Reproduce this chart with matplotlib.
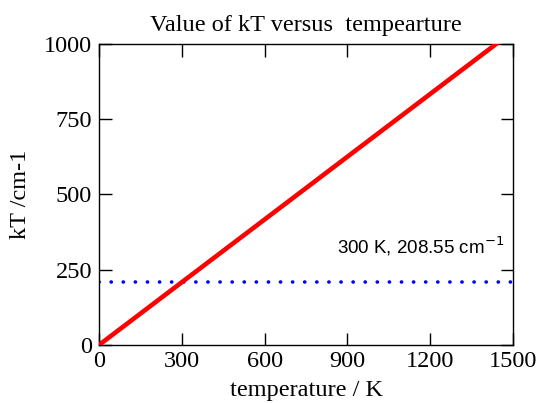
import matplotlib
matplotlib.use("Agg")
import matplotlib.pyplot as plt

temperature = [0, 1500]
kT = [0, 1042.5]
T_ref = 300
kT_ref = 208.55
x_ticks = [0, 300, 600, 900, 1200, 1500]
y_ticks = [0, 250, 500, 750, 1000]

plt.rcParams['font.family'] = ['Liberation Serif', 'DejaVu Serif']

fig = plt.figure(figsize=(5.41, 4.03), dpi=100)
ax = fig.add_axes([99/541, 1-345/403, (513-99)/541, (345-44)/403])

ax.plot(temperature, kT, color='#ff0000', lw=3.3, solid_capstyle='butt', zorder=3)
ax.axhline(kT_ref, color='#0000ff', lw=2.6, linestyle=(0, (0.05, 3.3)), dash_capstyle='round', zorder=2)

ax.set_xlim(0, 1500)
ax.set_ylim(0, 1000)
ax.set_xticks(x_ticks)
ax.set_yticks(y_ticks)
ax.tick_params(direction='in', top=True, right=True, length=9, width=1, labelsize=17.5, pad=5)
ax.tick_params(axis='x', pad=4)
for s in ax.spines.values():
    s.set_linewidth(1)

ax.text(1468, 288, f"{T_ref} K, {kT_ref} cm$^{{-1}}$", ha='right', va='bottom',
        family=['Liberation Sans', 'DejaVu Sans'], fontsize=13.5,
        math_fontfamily='dejavusans')

ax.set_title("Value of kT versus  tempearture", fontsize=17.5, pad=9)
ax.set_xlabel("temperature / K", fontsize=17.5, labelpad=6)
ax.set_ylabel("kT /cm-1", fontsize=17.5, labelpad=9)

fig.savefig("out.png", dpi=100)
